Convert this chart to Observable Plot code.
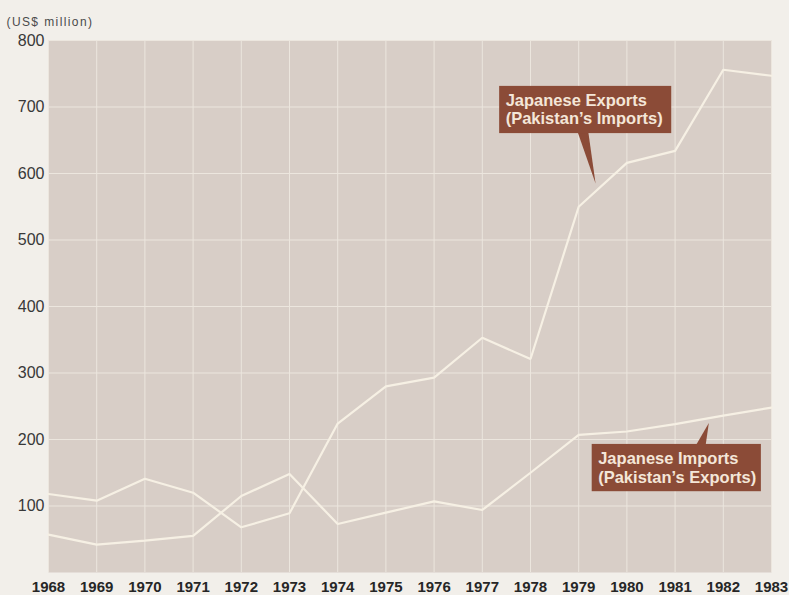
<!DOCTYPE html>
<html>
<head>
<meta charset="utf-8">
<script src="https://cdn.jsdelivr.net/npm/d3@7"></script>
<script src="https://cdn.jsdelivr.net/npm/@observablehq/plot@0.6"></script>
<style>
  html, body { margin: 0; padding: 0; background: #f2efea; }
  #chart { width: 789px; height: 595px; }
</style>
</head>
<body>
<div id="chart"></div>
<script>
const years = [1968, 1969, 1970, 1971, 1972, 1973, 1974, 1975, 1976, 1977, 1978, 1979, 1980, 1981, 1982, 1983];
const japaneseExports = [118, 108, 141, 120, 68, 89, 224, 280, 293, 353, 321, 550, 616, 634, 756, 747];
const japaneseImports = [57, 42, 48, 55, 115, 148, 73, 90, 107, 94, 150, 207, 212, 223, 236, 248];
const yTicks = [100, 200, 300, 400, 500, 600, 700, 800];
const unitLabel = "(US$ million)";

// annotation callouts (data coordinates: year / US$ million)
const calloutLabels = ["Japanese Exports\n(Pakistan\u2019s Imports)", "Japanese Imports\n(Pakistan\u2019s Exports)"];
const calloutBoxX1 = [1977.36, 1979.28];
const calloutBoxX2 = [1980.93, 1982.79];
const calloutBoxTop = [731, 192.6];
const calloutBoxBottom = [660, 121.5];
const calloutPointerBaseY = [662, 190];
const calloutPointerBaseX1 = [1978.98, 1981.42];
const calloutPointerBaseX2 = [1979.2, 1981.63];
const calloutTipX = [1979.35, 1981.70];
const calloutTipY = [585, 225];

const seriesData = [];
years.forEach((yr, i) => {
  seriesData.push({year: yr, value: japaneseExports[i], series: "Japanese Exports"});
  seriesData.push({year: yr, value: japaneseImports[i], series: "Japanese Imports"});
});
const boxes = calloutLabels.map((label, i) => ({
  label, x1: calloutBoxX1[i], x2: calloutBoxX2[i], y1: calloutBoxBottom[i], y2: calloutBoxTop[i]
}));
const pointers = [];
calloutLabels.forEach((label, i) => {
  pointers.push({k: i, x: calloutPointerBaseX1[i], y: calloutPointerBaseY[i]});
  pointers.push({k: i, x: calloutTipX[i], y: calloutTipY[i]});
  pointers.push({k: i, x: calloutPointerBaseX2[i], y: calloutPointerBaseY[i]});
});

const boxColor = "#8b4b37";
const gridColor = "#ece6de";

const chart = Plot.plot({
  width: 789,
  height: 595,
  marginLeft: 48,
  marginRight: 18,
  marginTop: 40,
  marginBottom: 23,
  style: {background: "#f2efea", fontFamily: "'Liberation Sans', Arial, sans-serif", overflow: "visible"},
  x: {domain: [1968, 1983]},
  y: {domain: [0, 800]},
  marks: [
    Plot.frame({fill: "#d8cec7", stroke: "none"}),
    Plot.gridX(years, {stroke: gridColor, strokeOpacity: 1, strokeWidth: 1}),
    Plot.gridY(yTicks, {stroke: gridColor, strokeOpacity: 1, strokeWidth: 1}),
    Plot.axisY(yTicks, {tickSize: 0, tickPadding: 4, fontSize: 16, fill: "#383838", label: null}),
    Plot.axisX(years, {tickSize: 0, tickPadding: 9, fontSize: 15, fontWeight: "bold", fill: "#262626", tickFormat: d => String(d), label: null}),
    Plot.line(seriesData, {x: "year", y: "value", z: "series", stroke: "#f6f0e4", strokeWidth: 2.2, strokeLinejoin: "miter"}),
    Plot.line(pointers, {x: "x", y: "y", z: "k", fill: boxColor, stroke: "none", curve: "linear-closed"}),
    Plot.rect(boxes, {x1: "x1", x2: "x2", y1: "y1", y2: "y2", fill: boxColor}),
    Plot.text(boxes, {x: "x1", y: "y2", text: "label", textAnchor: "start", lineAnchor: "top", dx: 6, dy: 6.5, lineHeight: 1.12, fontSize: 16.5, fontWeight: "bold", fill: "#f4e6d8"}),
    Plot.text([unitLabel], {frameAnchor: "top-left", text: d => d, textAnchor: "start", dx: -42, dy: -23, fontSize: 12, fill: "#4a4a4a", className: "unitlabel"})
  ]
});
document.getElementById("chart").appendChild(chart);
d3.select(chart).selectAll(".unitlabel text").style("letter-spacing", "1.4px");
</script>
</body>
</html>
